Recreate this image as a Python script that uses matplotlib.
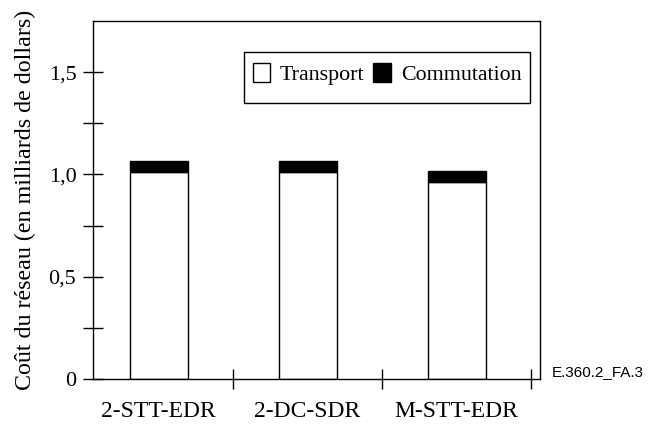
import matplotlib
matplotlib.use("Agg")
import matplotlib.pyplot as plt
from matplotlib.patches import Rectangle
from matplotlib.ticker import FixedLocator, NullFormatter

# values (milliards de dollars)
categories = ["2-STT-EDR", "2-DC-SDR", "M-STT-EDR"]
transport = [1.01, 1.01, 0.965]
commutation = [0.055, 0.055, 0.05]
yticks = [0, 0.5, 1.0, 1.5]
yminor = [0.25, 0.75, 1.25]
ytick_labels = ["0", "0,5", "1,0", "1,5"]

plt.rcParams["font.family"] = ["Liberation Serif", "DejaVu Serif"]

fig = plt.figure(figsize=(6.51, 4.29), dpi=100)
ax = fig.add_axes([0.1429, 0.1166, 0.6866, 0.8344])

x = list(range(len(categories)))
ax.bar(x, transport, width=0.39, color="white", edgecolor="black",
       linewidth=1.0, label="Transport")
ax.bar(x, commutation, width=0.39, bottom=transport, color="black",
       edgecolor="black", linewidth=1.0, label="Commutation")

ax.set_xlim(-0.44, 2.56)
ax.set_ylim(0, 1.75)

# y axis: labelled ticks + unlabelled minor ticks, both crossing the axis
ax.set_yticks(yticks)
ax.set_yticklabels(ytick_labels)
ax.yaxis.set_minor_locator(FixedLocator(yminor))
ax.tick_params(axis="y", which="both", direction="inout", length=14,
               width=1.0, labelsize=16, pad=5)

# x axis: separator ticks between groups, category names under the bars
ax.set_xticks([0.5, 1.5, 2.5])
ax.xaxis.set_major_formatter(NullFormatter())
ax.set_xticks(x, minor=True)
ax.set_xticklabels(categories, minor=True)
ax.tick_params(axis="x", which="major", direction="inout", length=15, width=1.0)
ax.tick_params(axis="x", which="minor", length=0, labelsize=17, pad=16)

for s in ax.spines.values():
    s.set_linewidth(1.0)

ax.set_ylabel("Coût du réseau (en milliards de dollars)", fontsize=17.3)
ax.yaxis.set_label_coords(-0.1275, 0.5)

leg = ax.legend(loc="upper left", bbox_to_anchor=(0.357, 0.884), borderaxespad=0,
                ncol=2, fontsize=15.8, frameon=False, handlelength=0.8,
                handleheight=1.0, handletextpad=0.45, columnspacing=0.4,
                borderpad=0)
leg.set_zorder(6)

# legend frame: a bit more room below the entries than above
fig.canvas.draw()
bb = leg.get_window_extent().transformed(fig.transFigure.inverted())
pw, ptop, pbot = 8.5 / 651, 11 / 429, 18 / 429
frame = Rectangle((bb.x0 - pw, bb.y0 - pbot), bb.width + 2 * pw,
                  bb.height + ptop + pbot, transform=fig.transFigure,
                  facecolor="white", edgecolor="black", linewidth=1.0, zorder=5)
ax.add_patch(frame)

ax.text(1.027, 0.0, "E.360.2_FA.3", transform=ax.transAxes, ha="left",
        va="bottom", fontsize=11, family="Liberation Sans")

fig.savefig("out.png", dpi=100)
